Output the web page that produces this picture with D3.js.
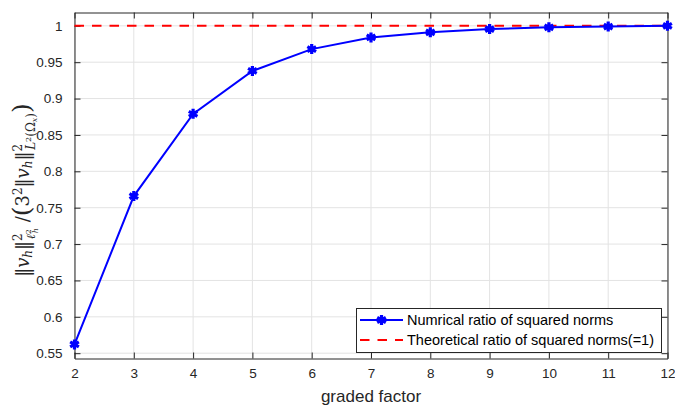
<!doctype html>
<html lang="en">
<head>
<meta charset="utf-8">
<script src="https://d3js.org/d3.v7.min.js"></script>
<style>
  body { margin: 0; background: #fff; }
  svg { display: block; font-family: "Liberation Sans", Arial, sans-serif; }
  .math { font-family: "DejaVu Serif", "Liberation Serif", serif; }
</style>
</head>
<body>
<svg id="chart" width="675" height="405"></svg>
<script>
// data
var factors = [2, 3, 4, 5, 6, 7, 8, 9, 10, 11, 12];
var ratios = [0.562, 0.766, 0.879, 0.938, 0.968, 0.984, 0.991, 0.9955, 0.998, 0.999, 1.0];
var theory = [1, 1];
var xTicks = [2, 3, 4, 5, 6, 7, 8, 9, 10, 11, 12];
var yTicks = [0.55, 0.6, 0.65, 0.7, 0.75, 0.8, 0.85, 0.9, 0.95, 1];
var yTickLabels = ["0.55", "0.6", "0.65", "0.7", "0.75", "0.8", "0.85", "0.9", "0.95", "1"];
var legendLabels = ["Numrical ratio of squared norms", "Theoretical ratio of squared norms(=1)"];

var plotLeft = 74.5, plotRight = 667.5, plotTop = 12.5, plotBottom = 358.5;
var svg = d3.select("#chart");

var x = d3.scaleLinear().domain([2, 12]).range([plotLeft, plotRight]);
var y = d3.scaleLinear().domain([0.5427, 1.0183]).range([plotBottom, plotTop]);

// grid
svg.append("g").selectAll("line").data(xTicks).join("line")
    .attr("x1", d => x(d)).attr("x2", d => x(d))
    .attr("y1", plotTop).attr("y2", plotBottom)
    .attr("stroke", "#e3e3e3").attr("stroke-width", 1);
svg.append("g").selectAll("line").data(yTicks).join("line")
    .attr("x1", plotLeft).attr("x2", plotRight)
    .attr("y1", d => y(d)).attr("y2", d => y(d))
    .attr("stroke", "#e3e3e3").attr("stroke-width", 1);

// axes (ticks pointing inward, box on)
var axisColor = "#262626";
var xAxis = svg.append("g").attr("transform", `translate(0,${plotBottom})`)
    .call(d3.axisBottom(x).tickValues(xTicks).tickSizeInner(-6).tickSizeOuter(0).tickPadding(10));
var xAxisTop = svg.append("g").attr("transform", `translate(0,${plotTop})`)
    .call(d3.axisTop(x).tickValues(xTicks).tickSizeInner(-6).tickSizeOuter(0).tickFormat(""));
var yAxis = svg.append("g").attr("transform", `translate(${plotLeft},0)`)
    .call(d3.axisLeft(y).tickValues(yTicks).tickSizeInner(-6).tickSizeOuter(0).tickPadding(12)
        .tickFormat((d, i) => yTickLabels[i]));
var yAxisRight = svg.append("g").attr("transform", `translate(${plotRight},0)`)
    .call(d3.axisRight(y).tickValues(yTicks).tickSizeInner(-6).tickSizeOuter(0).tickFormat(""));

[xAxis, xAxisTop, yAxis, yAxisRight].forEach(function (g) {
    g.attr("font-size", null).attr("font-family", null);
    g.selectAll("path").attr("stroke", axisColor).attr("stroke-width", 1);
    g.selectAll("line").attr("stroke", axisColor);
    g.selectAll("text").attr("fill", axisColor).style("font-size", "13.5px");
});

// theoretical line
svg.append("line")
    .attr("x1", x(2)).attr("x2", x(12))
    .attr("y1", y(theory[0])).attr("y2", y(theory[1]))
    .attr("stroke", "#ff0000").attr("stroke-width", 2)
    .attr("stroke-dasharray", "9.5,8");

// numerical line
var line = d3.line().x((d, i) => x(factors[i])).y(d => y(d));
svg.append("path").datum(ratios)
    .attr("d", line)
    .attr("fill", "none").attr("stroke", "#0000ff").attr("stroke-width", 2);

var star = d3.symbol().type(d3.symbolAsterisk).size(70);
svg.append("g").selectAll("path").data(ratios).join("path")
    .attr("transform", (d, i) => `translate(${x(factors[i])},${y(d)})`)
    .attr("d", star)
    .attr("fill", "none").attr("stroke", "#0000ff").attr("stroke-width", 3.2);

// x label
svg.append("text")
    .attr("x", (plotLeft + plotRight) / 2).attr("y", 402)
    .attr("text-anchor", "middle")
    .attr("fill", axisColor)
    .style("font-size", "17px")
    .text("graded factor");

// y label (math)
var yl = svg.append("text")
    .attr("class", "math")
    .attr("transform", "translate(29,190) rotate(-90)")
    .attr("text-anchor", "middle")
    .attr("fill", axisColor)
    .style("font-size", "18px");
function part(txt, opts) {
    opts = opts || {};
    var t = yl.append("tspan").text(txt);
    if (opts.italic) t.style("font-style", "italic");
    if (opts.size) t.style("font-size", opts.size);
    if (opts.dy) t.attr("dy", opts.dy);
    if (opts.dx) t.attr("dx", opts.dx);
    return t;
}
part("\u2016");
part("v", { italic: true });
part("h", { italic: true, size: "12px", dy: 3 });
part("\u2016", { dy: -3 });
part("2", { size: "12px", dy: -7 });
part("\u2113", { italic: true, size: "12px", dy: 13, dx: -6 });
part("2", { size: "8px", dy: -4 });
part("h", { italic: true, size: "8px", dy: 7, dx: -4 });
part(" /", { dy: -9 });
part("(", { size: "25px", dy: 1 });
part("3", { dy: -1 });
part("2", { size: "12px", dy: -7 });
part("\u2016", { dy: 7 });
part("v", { italic: true });
part("h", { italic: true, size: "12px", dy: 3 });
part("\u2016", { dy: -3 });
part("2", { size: "12px", dy: -7 });
part("L", { italic: true, size: "12px", dy: 13, dx: -6 });
part("2", { size: "8px", dy: -4 });
part("(\u03A9", { size: "12px", dy: 4 });
part("x", { italic: true, size: "8px", dy: 2 });
part(")", { size: "12px", dy: -2 });
part(")", { size: "25px", dy: -5 });

// legend
var lg = svg.append("g");
lg.append("rect")
    .attr("x", 356.5).attr("y", 308.5).attr("width", 305).attr("height", 44)
    .attr("fill", "#fff").attr("stroke", axisColor).attr("stroke-width", 1);
var rowY = [320, 340];
lg.append("line").attr("x1", 360).attr("x2", 403).attr("y1", rowY[0]).attr("y2", rowY[0])
    .attr("stroke", "#0000ff").attr("stroke-width", 2);
lg.append("path").attr("transform", `translate(381.5,${rowY[0]})`).attr("d", star)
    .attr("fill", "none").attr("stroke", "#0000ff").attr("stroke-width", 3.2);
lg.append("line").attr("x1", 360).attr("x2", 403).attr("y1", rowY[1]).attr("y2", rowY[1])
    .attr("stroke", "#ff0000").attr("stroke-width", 2).attr("stroke-dasharray", "9.5,8");
lg.selectAll("text.lt").data(legendLabels).join("text")
    .attr("class", "lt")
    .attr("x", 407).attr("y", (d, i) => rowY[i] + 5)
    .attr("fill", "#000")
    .style("font-size", "14.5px")
    .text(d => d);
</script>
</body>
</html>
